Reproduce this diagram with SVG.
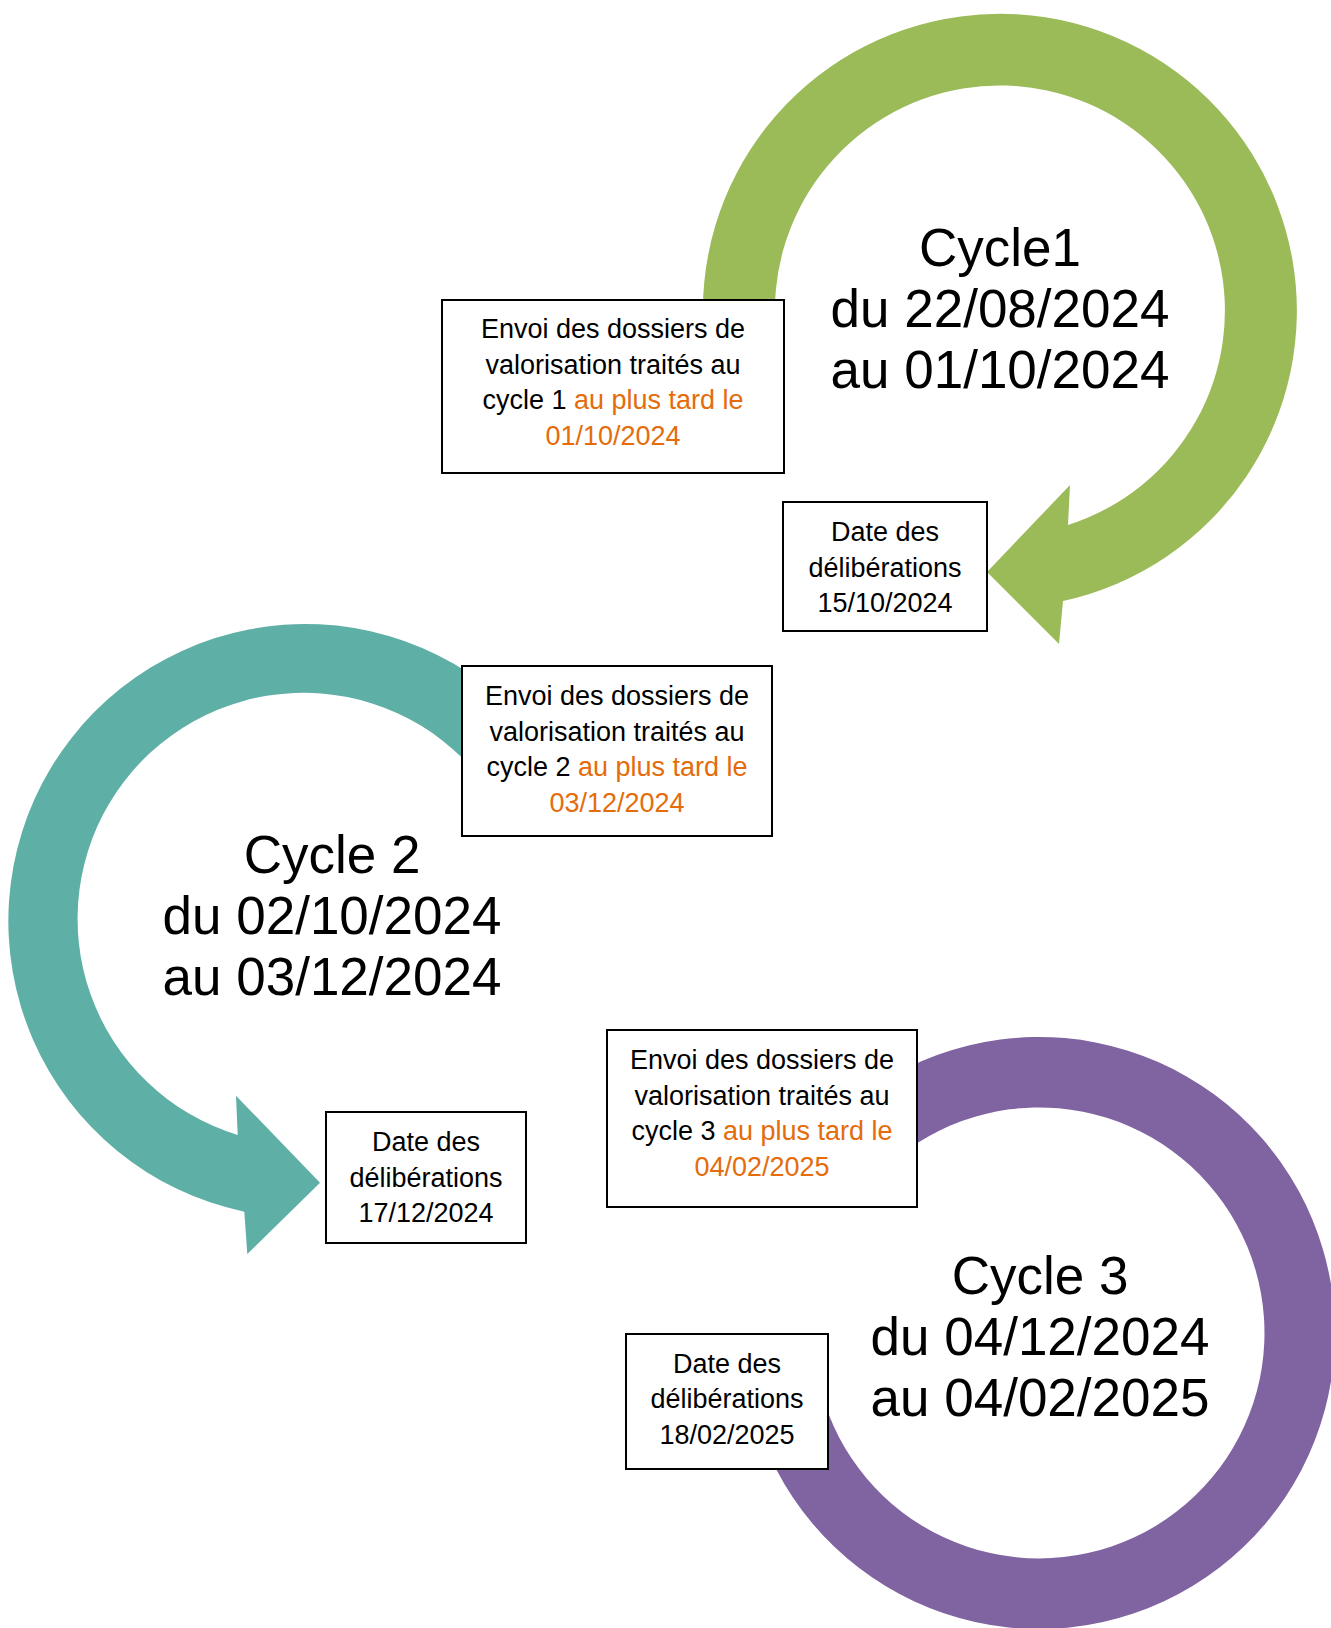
<svg xmlns="http://www.w3.org/2000/svg" width="1331" height="1628" viewBox="0 0 1331 1628">
<style>
.box{fill:#fff;stroke:#000;stroke-width:2}
.sm{font-family:"Liberation Sans",Arial,sans-serif;font-size:27px;fill:#000;text-anchor:middle}
.big{font-family:"Liberation Sans",Arial,sans-serif;font-size:53px;fill:#000;text-anchor:middle}
.or{fill:#E46C0A}
</style>
<rect width="1331" height="1628" fill="#fff"/>
<g id="connectors">
<path id="arrow-cycle1" fill="#9BBB59" d="M704.1,337.9 A297,297 0 1 1 1063,601 L1059,644 L987,572 L1070,485 L1068,525 A225,225 0 1 0 775.9,331.6 Z"/>
<path id="arrow-cycle2" fill="#5EAFA6" d="M534.5,732.1 A297,297 0 1 0 244.3,1211.7 L247.3,1254 L320,1182.7 L236,1095.7 L237.7,1135 A226,226 0 1 1 480.1,777.7 Z"/>
<path id="arc-cycle3" fill="#8064A2" d="M829.7,1123.7 A296,296 0 1 1 753.1,1409.6 L821.2,1391.4 A225.5,225.5 0 1 0 879.5,1173.5 Z"/>
</g>
<g id="cycle1">
<text class="big" x="1000" y="266">Cycle1</text>
<text class="big" x="1000" y="327">du 22/08/2024</text>
<text class="big" x="1000" y="388">au 01/10/2024</text>
</g>
<g id="cycle2">
<text class="big" x="332" y="873">Cycle 2</text>
<text class="big" x="332" y="934">du 02/10/2024</text>
<text class="big" x="332" y="995">au 03/12/2024</text>
</g>
<g id="cycle3">
<text class="big" x="1040" y="1294">Cycle 3</text>
<text class="big" x="1040" y="1355">du 04/12/2024</text>
<text class="big" x="1040" y="1416">au 04/02/2025</text>
</g>
<g id="envoi1">
<rect class="box" x="442" y="300" width="342" height="173"/>
<text class="sm" x="613" y="338">Envoi des dossiers de</text>
<text class="sm" x="613" y="374">valorisation traités au</text>
<text class="sm" x="613" y="409">cycle 1 <tspan class="or">au plus tard le</tspan></text>
<text class="sm or" x="613" y="445">01/10/2024</text>
</g>
<g id="delib1">
<rect class="box" x="783" y="502" width="204" height="129"/>
<text class="sm" x="885" y="541">Date des</text>
<text class="sm" x="885" y="577">délibérations</text>
<text class="sm" x="885" y="612">15/10/2024</text>
</g>
<g id="envoi2">
<rect class="box" x="462" y="666" width="310" height="170"/>
<text class="sm" x="617" y="705">Envoi des dossiers de</text>
<text class="sm" x="617" y="741">valorisation traités au</text>
<text class="sm" x="617" y="776">cycle 2 <tspan class="or">au plus tard le</tspan></text>
<text class="sm or" x="617" y="812">03/12/2024</text>
</g>
<g id="delib2">
<rect class="box" x="326" y="1112" width="200" height="131"/>
<text class="sm" x="426" y="1151">Date des</text>
<text class="sm" x="426" y="1187">délibérations</text>
<text class="sm" x="426" y="1222">17/12/2024</text>
</g>
<g id="envoi3">
<rect class="box" x="607" y="1030" width="310" height="177"/>
<text class="sm" x="762" y="1069">Envoi des dossiers de</text>
<text class="sm" x="762" y="1105">valorisation traités au</text>
<text class="sm" x="762" y="1140">cycle 3 <tspan class="or">au plus tard le</tspan></text>
<text class="sm or" x="762" y="1176">04/02/2025</text>
</g>
<g id="delib3">
<rect class="box" x="626" y="1334" width="202" height="135"/>
<text class="sm" x="727" y="1373">Date des</text>
<text class="sm" x="727" y="1408">délibérations</text>
<text class="sm" x="727" y="1444">18/02/2025</text>
</g>
</svg>
